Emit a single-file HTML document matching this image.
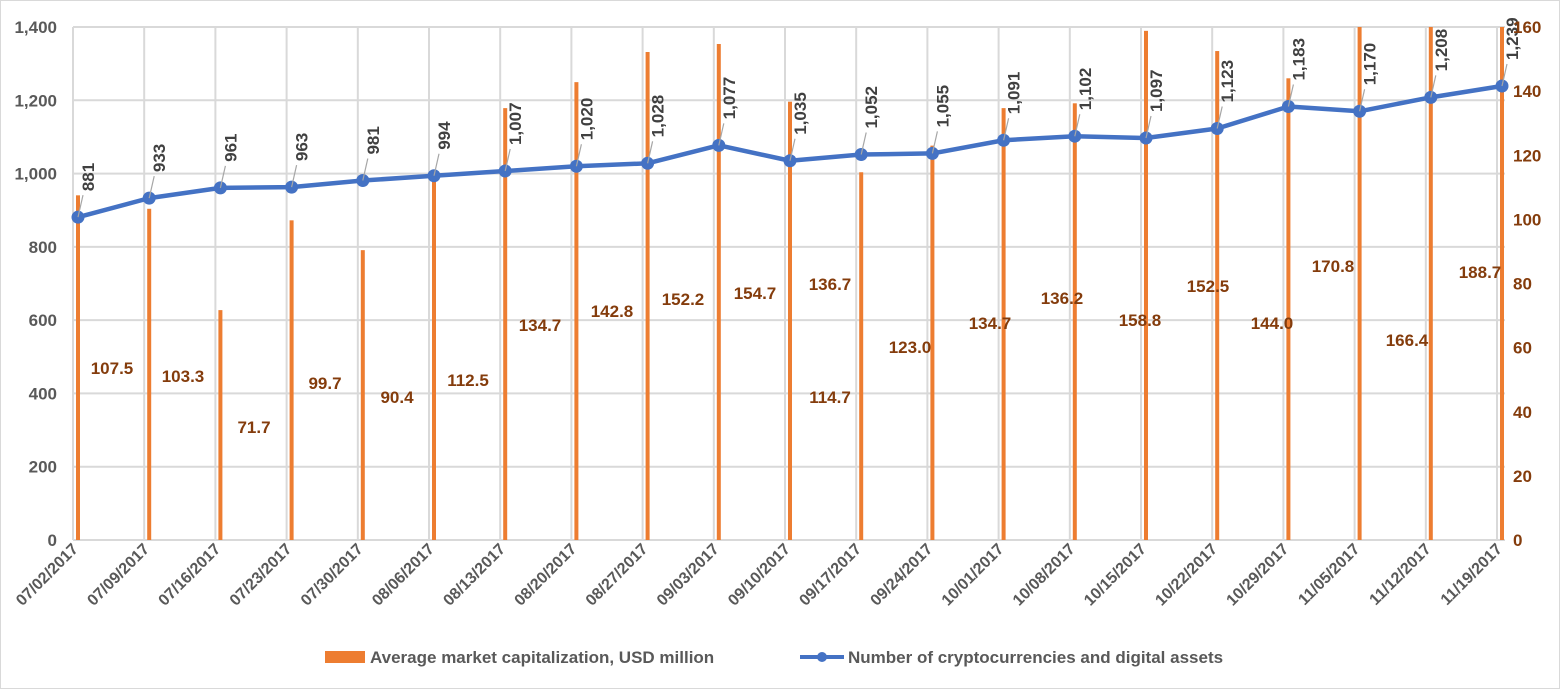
<!DOCTYPE html>
<html><head><meta charset="utf-8"><style>
html,body{margin:0;padding:0;background:#fff;}
svg text{font-family:"Liberation Sans",sans-serif;}
</style></head><body>
<svg id="chart" width="1561" height="690" xmlns="http://www.w3.org/2000/svg">
<rect x="0.5" y="0.5" width="1559" height="688" fill="#fff" stroke="#d9d9d9"/>
<g id="grid"></g><g id="bars"></g><g id="line"></g><g id="labels"></g><g id="axes"></g>
<g>
<rect x="325" y="651" width="40" height="12" fill="#ed7d31"/>
<text x="370" y="663" font-size="17" font-weight="bold" fill="#595959">Average market capitalization, USD million</text>
<line x1="800" y1="657" x2="844" y2="657" stroke="#4472c4" stroke-width="4"/>
<circle cx="822" cy="657" r="5" fill="#4472c4"/>
<text x="848" y="663" font-size="17" font-weight="bold" fill="#595959">Number of cryptocurrencies and digital assets</text>
</g>
</svg>
<script>
const categories=["07/02/2017","07/09/2017","07/16/2017","07/23/2017","07/30/2017","08/06/2017","08/13/2017","08/20/2017","08/27/2017","09/03/2017","09/10/2017","09/17/2017","09/24/2017","10/01/2017","10/08/2017","10/15/2017","10/22/2017","10/29/2017","11/05/2017","11/12/2017","11/19/2017"];
const marketCap=[107.5,103.3,71.7,99.7,90.4,112.5,134.7,142.8,152.2,154.7,136.7,114.7,123.0,134.7,136.2,158.8,152.5,144.0,170.8,166.4,188.7];
const assetCount=[881,933,961,963,981,994,1007,1020,1028,1077,1035,1052,1055,1091,1102,1097,1123,1183,1170,1208,1239];
const leftTicks=[0,200,400,600,800,1000,1200,1400];
const rightTicks=[0,20,40,60,80,100,120,140,160];
const barLabelPos=[[112,368],[183,376],[254,427],[325,383],[397,397],[468,380],[540,325],[612,311],[683,299],[755,293],[830,284],[830,397],[910,347],[990,323],[1062,298],[1140,320],[1208,286],[1272,323],[1333,266],[1407,340],[1480,272]];
const NS="http://www.w3.org/2000/svg";
const L=73,R=1505,T=27,B=540,STEP=71.2;
const yL=v=>B-(v/1400)*(B-T);
const yR=v=>B-(v/160)*(B-T);
const xG=i=>L+i*STEP;
const xP=i=>xG(i)+5;
function mk(tag,parent,attrs){const e=document.createElementNS(NS,tag);for(const k in attrs)e.setAttribute(k,attrs[k]);parent.appendChild(e);return e;}
const grid=document.getElementById('grid'),bars=document.getElementById('bars'),line=document.getElementById('line'),labels=document.getElementById('labels'),axes=document.getElementById('axes');
leftTicks.forEach(v=>{
 const g=mk('line',grid,{x1:L,x2:R,y1:yL(v),y2:yL(v),stroke:'#d9d9d9','stroke-width':2});
 
 
 const t=mk('text',axes,{x:57,y:yL(v)+6,'text-anchor':'end','font-size':17,'font-weight':'bold',fill:'#595959'});
 t.textContent=v.toLocaleString('en-US');
 
 
});
rightTicks.forEach(v=>{
 const t=mk('text',axes,{x:1513,y:yR(v)+6,'font-size':17,'font-weight':'bold',fill:'#843c0c'});
 t.textContent=v;
 
 
});
categories.forEach((c,i)=>{
 const g=mk('line',grid,{x1:xG(i),x2:xG(i),y1:T,y2:B,stroke:'#d9d9d9','stroke-width':2});
 
 
 const x=xP(i)+1,y=B+10;
 const t=mk('text',axes,{x:x,y:y,'text-anchor':'end','font-size':16,'font-weight':'bold',fill:'#595959',transform:`rotate(-45 ${x} ${y})`});
 t.textContent=c;
 
 
});
marketCap.forEach((v,i)=>{
 const top=Math.max(T,yR(v));
 const b=mk('rect',bars,{x:xP(i)-2,y:top,width:4,height:B-top,fill:'#ed7d31'});
 
 
 const p=barLabelPos[i];
 const t=mk('text',labels,{x:p[0],y:p[1]+6,'text-anchor':'middle','font-size':17,'font-weight':'bold',fill:'#843c0c'});
 t.textContent=v.toFixed(1);
 
 
});
const pts=assetCount.map((v,i)=>xP(i)+','+yL(v)).join(' ');
const pl=mk('polyline',line,{points:pts,fill:'none',stroke:'#4472c4','stroke-width':4.5,'stroke-linejoin':'round'});


assetCount.forEach((v,i)=>{
 const x=xP(i),y=yL(v);
 const c=mk('circle',line,{cx:x,cy:y,r:6.5,fill:'#4472c4'});
 
 
 const ld=mk('line',labels,{x1:x,y1:y,x2:x+5,y2:y-22,stroke:'#a6a6a6','stroke-width':1.2});
 
 
 const bx=x+16,by=y-26;
 const t=mk('text',labels,{x:bx,y:by,'font-size':17,'font-weight':'bold',fill:'#404040',transform:`rotate(-90 ${bx} ${by})`});
 t.textContent=v.toLocaleString('en-US');
 
 
});
</script>
</body></html>
